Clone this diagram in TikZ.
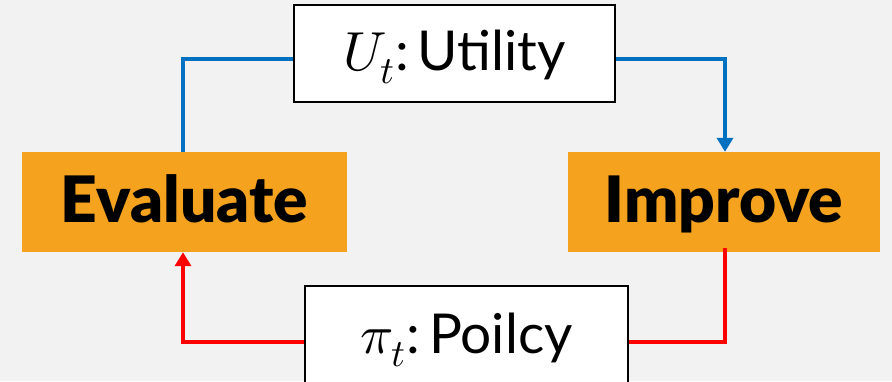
\documentclass[tikz,border=0pt]{standalone}
\usepackage{fontspec}
\usepackage{unicode-math}
\setmainfont{Lato}
\setmathfont{Latin Modern Math}
\newfontfamily\heavyfont{Lato Black}
\usetikzlibrary{arrows.meta}
\definecolor{bg}{HTML}{F2F2F2}
\definecolor{stageorange}{HTML}{F5A31E}
\definecolor{flowblue}{HTML}{0070C0}
\definecolor{flowred}{HTML}{FF0000}
\tikzset{
  stagebox/.style={fill=stageorange, draw=none, inner sep=0pt, anchor=base,
    text height=70pt, text depth=30pt,
    font=\fontsize{64}{70}\selectfont\heavyfont},
  quantitybox/.style={fill=white, draw=black, line width=2pt, inner sep=0pt, anchor=base,
    font=\fontsize{55}{62}\selectfont},
  blueflow/.style={draw=flowblue, line width=4pt},
  redflow/.style={draw=flowred, line width=4pt},
  tip/.style={-{Triangle[width=16pt,length=14pt]}}
}
\begin{document}
\begin{tikzpicture}[x=1pt, y=-1pt]
  \useasboundingbox (0,0) rectangle (892,381);
  \clip (0,0) rectangle (892,381);
  \fill[bg] (0,0) rectangle (892,381);

  % stage boxes
  \node[stagebox, text width=325pt, align=center] (eval) at (184.5,222) {Evaluate};
  \node[stagebox, text width=312pt, align=center] (impr) at (724,222) {Improve};

  % quantity boxes
  \node[quantitybox, text width=321pt, align=center, text height=65pt, text depth=32pt]
    (util) at (454.5,70) {$U_t$:\,Utility};
  \node[quantitybox, text width=323pt, align=center, text height=67pt, text depth=60pt]
    (pol) at (466.5,353) {$\pi_t$:\,Poilcy\hspace*{5pt}};

  % corner points of the loop
  \coordinate (tl) at (183,59);
  \coordinate (tr) at (725,59);
  \coordinate (bl) at (183,342);
  \coordinate (br) at (725,342);

  % blue: evaluate -> utility -> improve
  \draw[blueflow] (eval.north -| tl) -- (tl) -- (util.west |- tl);
  \draw[blueflow, tip] (util.east |- tr) -- (tr) -- (impr.north -| tr);
  % red: improve -> policy -> evaluate
  \draw[redflow] ([yshift=4pt]impr.south -| br) -- (br) -- (pol.east |- br);
  \draw[redflow, tip] (pol.west |- bl) -- (bl) -- (eval.south -| bl);
\end{tikzpicture}
\end{document}
